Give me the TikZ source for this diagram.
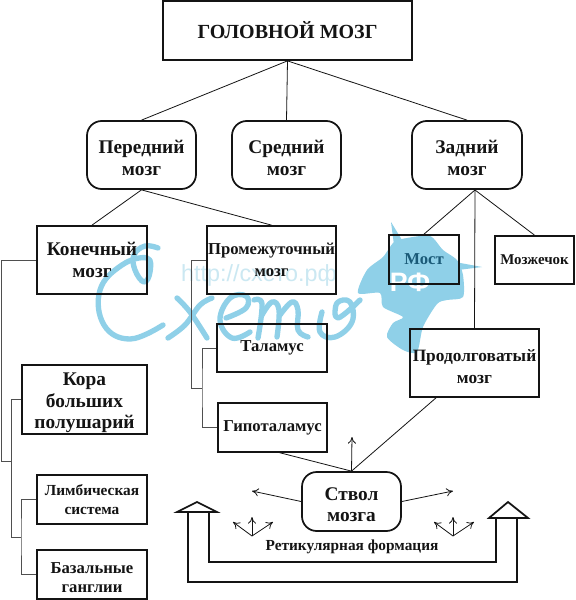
\documentclass[tikz,border=0pt]{standalone}
\usepackage{fontspec}
\setmainfont{Liberation Serif}
\newfontfamily\wmfont{Liberation Sans}
\usetikzlibrary{arrows.meta}
\definecolor{wm}{HTML}{8FD0E8}
\definecolor{wmtext}{HTML}{CBE8F2}
\definecolor{ink}{HTML}{141414}
\definecolor{inkteal}{HTML}{1A5A78}
\newcommand{\lowr}{\rule{0pt}{14.5pt}}
\tikzset{
  boxbase/.style={draw=ink,line width=1.3pt,inner sep=0pt,align=center,font=\bfseries,text=ink},
  sq/.style 2 args={boxbase,minimum width=#1*0.75pt,minimum height=#2*0.75pt},
  rnd/.style 2 args={boxbase,rounded corners=11pt,minimum width=#1*0.75pt,minimum height=#2*0.75pt},
  txa/.style={font=\fontsize{14.5}{16}\selectfont\bfseries},
  txp/.style={font=\fontsize{13}{16}\selectfont\bfseries},
  txb/.style={font=\fontsize{12.5}{16}\selectfont\bfseries},
  txm/.style={font=\fontsize{11.2}{14}\selectfont\bfseries},
  txc/.style={font=\fontsize{11.5}{14.5}\selectfont\bfseries},
  txd/.style={font=\fontsize{12.5}{14.5}\selectfont\bfseries},
  link/.style={draw=ink,line width=0.6pt},
  tree/.style={draw=ink!75,line width=0.55pt},
  thinarrow/.style={draw=ink,line width=0.6pt,-{To[length=5pt,width=6pt]}},
  bigarrow/.style={draw=ink,line width=1.3pt,line join=miter},
  wmstroke/.style={draw=wm,line width=4pt,line cap=round,line join=round}
}
\begin{document}
\begin{tikzpicture}[x=0.75pt,y=-0.75pt]
\useasboundingbox[fill=white] (0,0) rectangle (575,600);
% watermark
\fill[wm] plot[smooth cycle,tension=0.45] coordinates {(394,242)(407,238)(430,236)(443,250)(457,260)(463,275)(463,297)(447,300)(437,304)(423,327)(417,352)(403,350)(387,337)(393,323)(403,317)(383,307)(380,293)(358,293)(367,270)(383,257)};
\fill[wm] (455,262) -- (482,267) -- (458,270) -- cycle;
\fill[wm] (394,245) -- (391,222) -- (402,240) -- cycle;
\node[font=\wmfont\bfseries\fontsize{20}{20}\selectfont,text=white,inner sep=0pt] (wmrf) at (410,282) {РФ};
\node[font=\wmfont\fontsize{17.5}{17.5}\selectfont,text=wmtext,inner sep=0pt] (wmurl) at (259,275) {http://схето.рф};
\draw[wmstroke] plot[smooth,tension=0.7] coordinates {(163,325)(130,339)(104,325)(100,290)(122,265)(147,258)(150,272)(144,282)(135,270)(134,255)(145,246)(158,248)};
\draw[wmstroke] plot[smooth,tension=0.6] coordinates {(177,298)(190,312)(207,338)};
\draw[wmstroke] plot[smooth,tension=0.6] coordinates {(168,338)(185,325)(200,305)(212,298)};
\draw[wmstroke] plot[smooth,tension=0.7] coordinates {(226,318)(246,308)(246,296)(230,298)(220,320)(232,338)(250,332)};
\draw[wmstroke] plot[smooth,tension=0.7] coordinates {(254,300)(262,304)(258,338)};
\draw[wmstroke] plot[smooth,tension=0.7] coordinates {(262,315)(272,302)(279,310)(277,337)};
\draw[wmstroke] plot[smooth,tension=0.7] coordinates {(280,315)(292,302)(298,310)(298,330)(308,337)};
\draw[wmstroke] plot[smooth,tension=0.7] coordinates {(322,312)(320,332)(335,337)(352,322)(350,302)(337,303)(338,318)(360,300)};
% boxes
\node[sq={249}{59}] (top) at (287.5,30.5) {\fontsize{15}{18}\selectfont ГОЛОВНОЙ МОЗГ};
\node[rnd={109}{68},txa] (pered) at (141.5,155) {\lowr Передний\\мозг};
\node[rnd={109}{68},txa] (sred) at (286.5,155) {\lowr Средний\\мозг};
\node[rnd={110}{68},txa] (zad) at (467,155) {\lowr Задний\\мозг};
\node[sq={110}{68},txa] (kon) at (92,260) {Конечный\\[1pt]мозг};
\node[sq={129}{68},txb] (prom) at (271.5,260) {Промежуточный\\[1pt]мозг};
\node[sq={70}{49},txb,text=inkteal] (most) at (424,259.5) {Мост};
\node[sq={79}{48},txm] (moz) at (534.5,260) {Мозжечок};
\node[sq={129}{68},txp] (prod) at (474.5,363) {\lowr Продолговатый\\мозг};
\node[sq={110}{48},txb] (tal) at (272,348) {Таламус};
\node[sq={109}{49},txb] (gip) at (272.5,427.5) {Гипоталамус};
\node[rnd={99}{59},txa] (stem) at (351.5,501.5) {\lowr Ствол\\мозга};
\node[sq={125}{69},txa] (kora) at (84.5,399.5) {\lowr Кора\\больших\\полушарий};
\node[sq={110}{49},txc] (limb) at (92,499.5) {Лимбическая\\система};
\node[sq={110}{49},txd] (baz) at (92,574.5) {\rule{0pt}{12.5pt}Базальные\\ганглии};
\node[font=\fontsize{11.5}{14}\selectfont\bfseries,text=ink,inner sep=0pt] (ret) at (352,547) {Ретикулярная формация};
% named free ends
\coordinate (zj) at (475,190);
\coordinate (t1) at (1,461);
\coordinate (t1b) at (11,461);
\coordinate (t2) at (11,537);
\coordinate (t3) at (21,537);
\coordinate (t4) at (191,388);
\coordinate (t5) at (202,388);
\coordinate (pj) at (437,397);
\coordinate (gj) at (277,452);
\coordinate (au) at (352,437);
\coordinate (al) at (252,491);
\coordinate (ar) at (453,491);
\coordinate (sl) at (252,536);
\coordinate (sr) at (453,536);
% connectors
\draw[link] (top.south) -- (pered.north);
\draw[link] (top.south) -- (sred.north);
\draw[link] (top.south) -- (zad.north);
\draw[link] (pered.south) -- (kon.north);
\draw[link] (pered.south) -- (prom.north);
\draw[link] (zj) -- (most.north);
\draw[link] (zj) -- (prod.north);
\draw[link] (zj) -- (moz.north);
\draw[tree] (kon.west) -| (t1) -- (t1b);
\draw[tree] (kora.west) -| (t2) -- (t3);
\draw[tree] (limb.west) -| (t3) |- (baz.west);
\draw[tree] (prom.west) -| (t4) -- (t5);
\draw[tree] (tal.west) -| (t5) |- (gip.west);
\draw[link] (gj) -- (stem.north);
\draw[link] (pj) -- (stem.north);
\draw[thinarrow] (stem.north) -- (au);
\draw[thinarrow] (stem.west) -- (al);
\draw[thinarrow] (stem.east) -- (ar);
\foreach \dx/\dy in {0/-19,-19/-14,21/-14}{
  \draw[thinarrow] (sl) -- ++(\dx,\dy);
  \draw[thinarrow] (sr) -- ++(\dx,\dy);
}
% U-shaped arrow
\draw[bigarrow] (188,512) -- (188,582) -- (517,582) -- (517,518);
\draw[bigarrow] (209,512) -- (209,562) -- (496,562) -- (496,518);
\draw[bigarrow] (177,512) -- (197,502) -- (217,512) -- cycle;
\draw[bigarrow] (489,518) -- (508,502) -- (528,518) -- cycle;
\end{tikzpicture}
\end{document}
